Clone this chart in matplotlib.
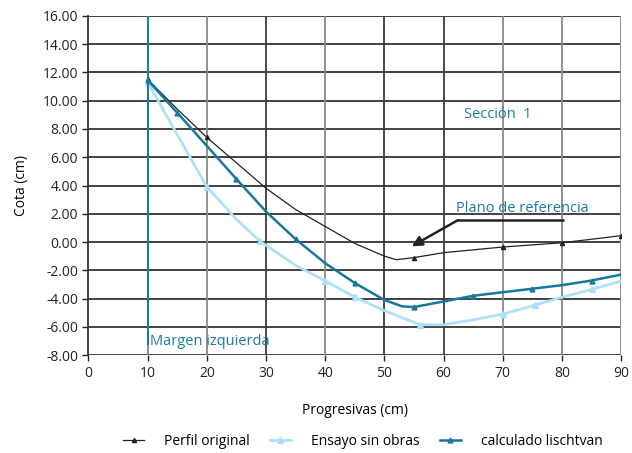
import matplotlib
matplotlib.use("Agg")
import matplotlib.pyplot as plt
from matplotlib.ticker import FormatStrFormatter

# Data
x_perfil = [10, 15, 20, 25, 30, 35, 40, 45, 50, 52, 55, 60, 65, 70, 75, 80, 85, 90]
y_perfil = [11.5, 9.4, 7.4, 5.6, 3.8, 2.3, 1.1, -0.1, -1.0, -1.25, -1.1, -0.75, -0.55, -0.35, -0.2, -0.05, 0.2, 0.45]

x_ensayo = [10, 15, 20, 25, 29, 35, 40, 45, 50, 56, 60, 65, 70, 75.5, 80, 85, 90]
y_ensayo = [11.3, 7.6, 3.9, 1.6, 0.05, -1.65, -2.75, -3.9, -4.85, -5.85, -5.85, -5.5, -5.1, -4.45, -3.9, -3.35, -2.75]

x_calc = [10, 15, 20, 25, 30, 35, 40, 45, 50, 53, 55, 60, 65, 70, 75, 80, 85, 90]
y_calc = [11.45, 9.15, 6.8, 4.45, 2.15, 0.2, -1.5, -2.9, -4.1, -4.55, -4.6, -4.2, -3.8, -3.55, -3.3, -3.05, -2.72, -2.3]

labels = ["Perfil original", "Ensayo sin obras", "calculado lischtvan"]
colors = ["#222222", "#aee0f7", "#17789f"]
text_color = "#1a7aa3"

plt.rcParams['font.family'] = ['Open Sans', 'DejaVu Sans']

fig = plt.figure(figsize=(6.32, 4.53), dpi=100)
ax = fig.add_axes([0.140, 0.216, 0.843, 0.749])

ax.plot(x_perfil, y_perfil, color=colors[0], lw=0.9, marker='^', ms=3,
        markevery=[0, 2, 10, 13, 15, 17], label=labels[0], zorder=4)
ax.plot(x_ensayo, y_ensayo, color=colors[1], lw=2.0, marker='^', ms=4,
        markevery=[0, 2, 4, 6, 7, 9, 12, 13, 15], label=labels[1], zorder=3)
ax.plot(x_calc, y_calc, color=colors[2], lw=1.8, marker='^', ms=3.5,
        markevery=[0, 1, 3, 5, 7, 10, 12, 14, 16], label=labels[2], zorder=5)

ax.set_xlim(0, 90)
ax.set_ylim(-8, 16)
ax.set_xticks(range(0, 91, 10))
ax.set_yticks(range(-8, 17, 2))
ax.yaxis.set_major_formatter(FormatStrFormatter('%.2f'))

for y in range(-8, 17, 2):
    ax.axhline(y, color="#333333", lw=1.3, zorder=1)
for x in range(10, 91, 10):
    ax.axvline(x, color="#3a3a3a" if x in (30, 50, 60) else "#888888", lw=1.3, zorder=1)

for s in ["top", "right", "bottom"]:
    ax.spines[s].set_visible(False)
ax.spines["left"].set_color("#333333")
ax.spines["left"].set_linewidth(1.3)
ax.tick_params(axis='both', labelsize=10, colors="#222222", length=4, width=1)

# margin line
ax.plot([10, 10], [16, -7.2], color="#1a7aa3", lw=1.5, zorder=6)
ax.text(10.4, -7.0, "Margen izquierda", color=text_color, fontsize=10.5, va='center', ha='left')
ax.text(63.5, 9.0, "Sección  1", color=text_color, fontsize=10.5, va='center', ha='left')
ax.text(62.0, 2.4, "Plano de referencia", color=text_color, fontsize=10.5, va='center', ha='left')
ax.plot([62.3, 80.3], [1.55, 1.55], color="#222222", lw=1.8, zorder=6, solid_capstyle='butt')
ax.annotate("", xy=(54.6, -0.3), xytext=(62.4, 1.55), zorder=6,
            arrowprops=dict(arrowstyle="-|>", color="#222222", lw=1.8,
                            mutation_scale=15, shrinkA=0, shrinkB=0))

ax.set_xlabel("Progresivas (cm)", fontsize=10, labelpad=16)
ax.set_ylabel("Cota (cm)", fontsize=10, labelpad=10)

fig.legend(loc='center', bbox_to_anchor=(0.574, 0.026), ncol=3, frameon=False, fontsize=10,
           handlelength=1.5, columnspacing=1.45, handletextpad=1.45)

fig.savefig("out.png", dpi=100)
